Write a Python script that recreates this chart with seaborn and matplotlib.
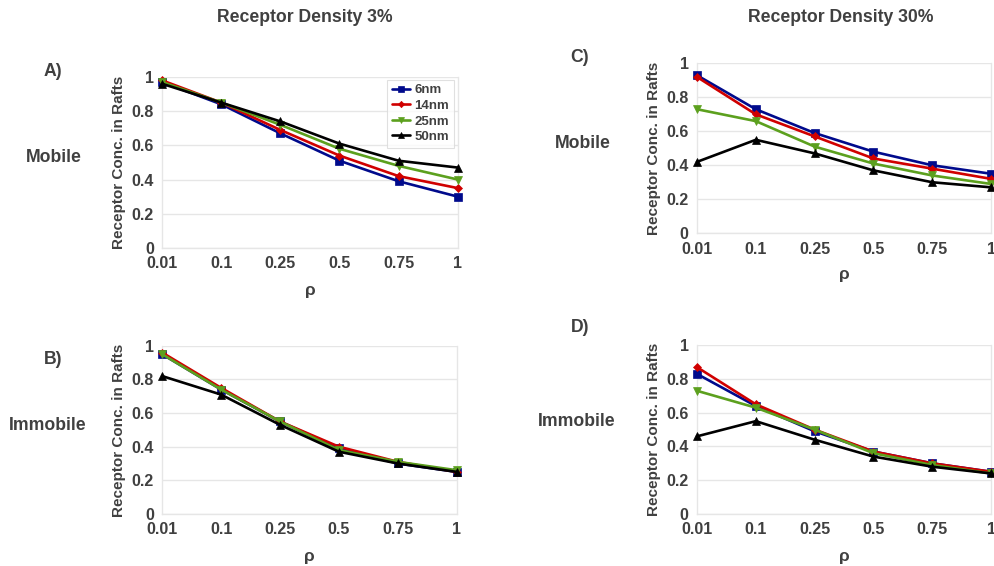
import matplotlib
matplotlib.use("Agg")
import matplotlib.pyplot as plt
import seaborn as sns
import pandas as pd

sns.set_theme(style="white")
plt.rcParams['font.family'] = ['Liberation Sans', 'DejaVu Sans']

rho_labels = ["0.01", "0.1", "0.25", "0.5", "0.75", "1"]
sizes = ["6nm", "14nm", "25nm", "50nm"]

# Panel A: density 3%, mobile
a_6 = [0.97, 0.84, 0.67, 0.51, 0.39, 0.30]
a_14 = [0.98, 0.85, 0.69, 0.54, 0.42, 0.35]
a_25 = [0.97, 0.85, 0.72, 0.58, 0.48, 0.40]
a_50 = [0.96, 0.85, 0.74, 0.61, 0.51, 0.47]
# Panel B: density 3%, immobile
b_6 = [0.95, 0.74, 0.55, 0.39, 0.30, 0.25]
b_14 = [0.96, 0.75, 0.55, 0.40, 0.31, 0.25]
b_25 = [0.95, 0.74, 0.55, 0.38, 0.31, 0.26]
b_50 = [0.82, 0.71, 0.53, 0.37, 0.30, 0.25]
# Panel C: density 30%, mobile
c_6 = [0.93, 0.73, 0.59, 0.48, 0.40, 0.35]
c_14 = [0.92, 0.70, 0.57, 0.44, 0.38, 0.32]
c_25 = [0.73, 0.66, 0.51, 0.41, 0.34, 0.29]
c_50 = [0.42, 0.55, 0.47, 0.37, 0.30, 0.27]
# Panel D: density 30%, immobile
d_6 = [0.83, 0.64, 0.49, 0.37, 0.30, 0.25]
d_14 = [0.87, 0.65, 0.50, 0.37, 0.30, 0.25]
d_25 = [0.73, 0.63, 0.50, 0.36, 0.29, 0.24]
d_50 = [0.46, 0.55, 0.44, 0.34, 0.28, 0.24]

palette = {"6nm": "#000a8c", "14nm": "#d00000", "25nm": "#5ca01e", "50nm": "#000000"}
markers = {"6nm": "s", "14nm": "D", "25nm": "v", "50nm": "^"}
msizes = {"6nm": 5.5, "14nm": 4.0, "25nm": 5.5, "50nm": 5.5}
TXT = "#404040"
GRID = "#e6e6e6"


def make_df(series):
    rows = []
    for s, vals in zip(sizes, series):
        for i, v in enumerate(vals):
            rows.append({"rho": i, "val": v, "size": s})
    return pd.DataFrame(rows)


fig = plt.figure(figsize=(9.95, 5.66), dpi=100)

panels = [
    ([a_6, a_14, a_25, a_50], [0.163, 0.562, 0.297, 0.302], True, 290),
    ([b_6, b_14, b_25, b_50], [0.163, 0.092, 0.296, 0.297], False, 557),
    ([c_6, c_14, c_25, c_50], [0.7005, 0.588, 0.2955, 0.300], False, 275),
    ([d_6, d_14, d_25, d_50], [0.7005, 0.092, 0.2955, 0.298], False, 557),
]

for series, pos, show_legend, xlab_y in panels:
    ax = fig.add_axes(pos)
    df = make_df(series)
    for s in sizes:
        sub = df[df["size"] == s]
        sns.lineplot(data=sub, x="rho", y="val", ax=ax, color=palette[s],
                     marker=markers[s], markersize=msizes[s], linewidth=1.9,
                     markeredgewidth=0.5, markeredgecolor=palette[s],
                     label=s, clip_on=False, zorder=3)
    ax.set_xlim(0, 5)
    ax.set_ylim(0, 1)
    ax.set_xticks(range(6))
    ax.set_xticklabels(rho_labels)
    ax.set_yticks([0, 0.2, 0.4, 0.6, 0.8, 1])
    ax.set_yticklabels(["0", "0.2", "0.4", "0.6", "0.8", "1"])
    ax.yaxis.grid(True, color=GRID, linewidth=1)
    ax.xaxis.grid(False)
    for sp in ["left", "right", "bottom"]:
        ax.spines[sp].set_visible(True)
        ax.spines[sp].set_color(GRID)
        ax.spines[sp].set_linewidth(1)
    ax.spines["top"].set_visible(False)
    ax.tick_params(axis="x", direction="in", length=4, color=GRID, pad=6,
                   labelsize=11.5, labelcolor=TXT)
    ax.tick_params(axis="y", length=0, pad=6, labelsize=11.5, labelcolor=TXT)
    for lab in ax.get_xticklabels() + ax.get_yticklabels():
        lab.set_fontweight("bold")
    ax.set_xlabel("")
    ax.set_ylabel("Receptor Conc. in Rafts", fontsize=11, fontweight="bold",
                  color=TXT, labelpad=4)
    bb = pos
    fig.text(bb[0] + bb[2] / 2, 1 - xlab_y / 566, "ρ", ha="center", va="center",
             fontsize=12.5, fontweight="bold", color=TXT)
    if show_legend:
        leg = ax.legend(loc="upper right", bbox_to_anchor=(0.995, 1.0),
                        frameon=True, fancybox=False, fontsize=9.5,
                        handlelength=1.4, handletextpad=0.3, labelspacing=0.25,
                        borderpad=0.35, borderaxespad=0.2, markerscale=0.8)
        leg.get_frame().set_edgecolor("#d9d9d9")
        leg.get_frame().set_linewidth(0.8)
        for t in leg.get_texts():
            t.set_fontweight("bold")
            t.set_color(TXT)
    else:
        lg = ax.get_legend()
        if lg is not None:
            lg.remove()

# Column titles
fig.text(305 / 995, 1 - 17 / 566, "Receptor Density 3%", ha="center", va="center",
         fontsize=12.7, fontweight="bold", color=TXT)
fig.text(841 / 995, 1 - 17 / 566, "Receptor Density 30%", ha="center", va="center",
         fontsize=12.7, fontweight="bold", color=TXT)

# Panel letters and row labels
labels = [("A)", 53, 72), ("Mobile", 54, 157), ("B)", 53, 360), ("Immobile", 48, 426),
          ("C)", 580, 57), ("Mobile", 583, 143), ("D)", 580, 327), ("Immobile", 577, 421)]
for txt, x, y in labels:
    fig.text(x / 995, 1 - y / 566, txt, ha="center", va="center",
             fontsize=12.7, fontweight="bold", color=TXT)

fig.savefig("out.png", dpi=100)
